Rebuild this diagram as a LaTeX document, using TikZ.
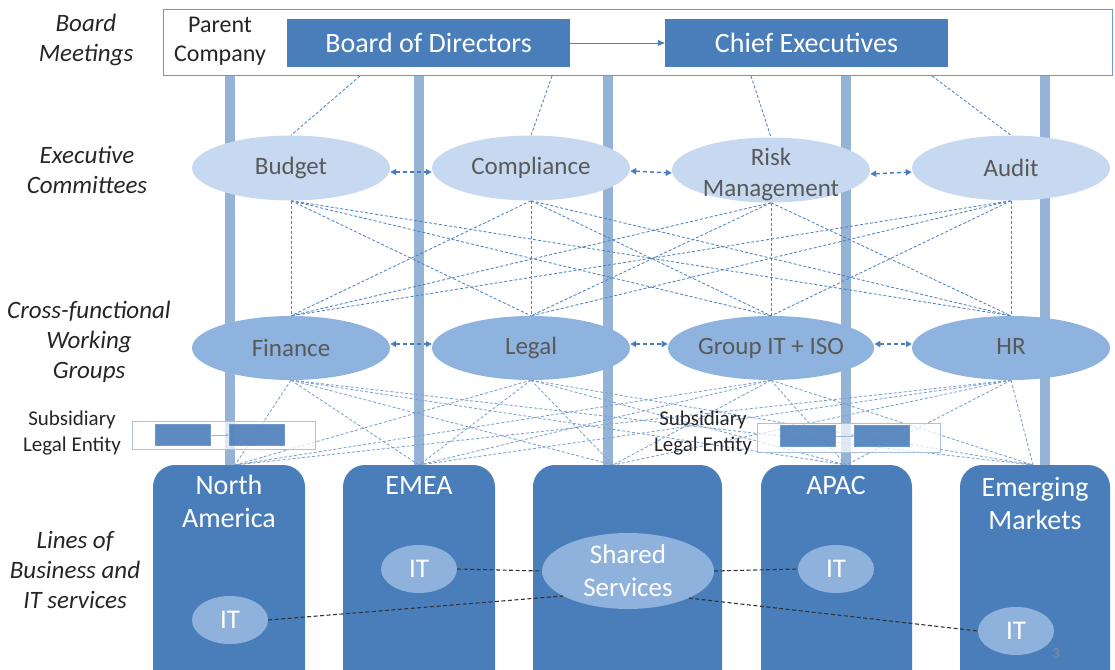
\documentclass[tikz,border=0pt]{standalone}
\usepackage{fontspec}
\setmainfont{Carlito}
\usetikzlibrary{shapes.geometric,arrows.meta,calc,backgrounds}
\definecolor{dblue}{RGB}{74,126,187}
\definecolor{barblue}{RGB}{149,179,215}
\definecolor{execfill}{RGB}{198,217,241}
\definecolor{wgfill}{RGB}{142,179,222}
\definecolor{itfill}{RGB}{143,178,220}
\definecolor{txtgray}{RGB}{89,89,89}
\definecolor{lineblue}{RGB}{79,129,189}
\definecolor{boxborder}{RGB}{110,150,205}
\tikzset{
  lbl/.style={font=\fontsize{25}{30}\selectfont\itshape, text=black!85, align=center, inner sep=0},
  sublbl/.style={font=\fontsize{21}{26}\selectfont, text=black!85, align=center, inner sep=0},
  topbox/.style={fill=dblue, text=white, font=\fontsize{28}{30}\selectfont, minimum width=283, minimum height=48, inner sep=0},
  execell/.style={ellipse, fill=execfill, minimum width=198, minimum height=65, inner sep=0, text=txtgray, font=\fontsize{25}{31}\selectfont, align=center},
  exectext/.style={inner sep=0, text=txtgray, font=\fontsize{25}{31}\selectfont, align=center},
  wgell/.style={ellipse, fill=wgfill, minimum width=198, minimum height=64, inner sep=0, text=txtgray, font=\fontsize{25}{30}\selectfont, align=center},
  itell/.style={ellipse, fill=itfill, minimum width=76, minimum height=48, inner sep=0, text=white, font=\fontsize{27}{30}\selectfont},
  region/.style={fill=dblue, rounded corners=22},
  reglbl/.style={text=white, font=\fontsize{28}{33}\selectfont, align=center, inner sep=0},
  bar/.style={barblue, line width=10},
  conn/.style={lineblue, line width=0.85, dash pattern=on 3pt off 2pt},
  lowconn/.style={lineblue!75, line width=0.85, dash pattern=on 3pt off 2pt},
  dar/.style={dblue, line width=1.5, dash pattern=on 4pt off 3pt, {Triangle[length=6pt,width=6pt]}-{Triangle[length=6pt,width=6pt]}},
  blk/.style={black!80, line width=1.1, dash pattern=on 4pt off 2.5pt},
  subbox/.style={draw=boxborder!60, fill=white, fill opacity=0.7, line width=0.6},
  subrect/.style={fill=dblue, draw=dblue!80, fill opacity=0.9, minimum width=55, minimum height=21, inner sep=0}
}
\begin{document}
\begin{tikzpicture}[x=1pt,y=-1pt]
\useasboundingbox (0,0) rectangle (1115,669);
\clip (0,0) rectangle (1115,669);
% outer box
\node[draw=boxborder, fill=white, line width=0.8, minimum width=949, minimum height=66, inner sep=0] (pc) at (637.5,42) {};
\node[font=\fontsize{24}{29}\selectfont, align=center, inner sep=0, text=black!85] (pct) at (220,41) {Parent\\Company};
\node[topbox] (bod) at (428.5,43) {Board of Directors};
\node[topbox] (ce) at (806.5,43) {Chief Executives};
\draw[lineblue, line width=0.8, -{Triangle[length=7pt,width=6pt]}] (bod.east) -- (ce.west);
% left labels
\node[lbl] (l1) at (86,40) {Board\\Meetings};
\node[lbl] (l2) at (87,170) {Executive\\Committees};
\node[lbl] (l3) at (89,342) {Cross-functional\\Working\\Groups};
\node[lbl] (l4) at (75,570) {Lines of\\Business and\\IT services};
\node[sublbl] (sl1) at (72,433) {Subsidiary\\Legal Entity};
% coordinates
\coordinate (t1) at (360,76);
\coordinate (t2) at (552,76);
\coordinate (t3) at (751,76);
\coordinate (t4) at (932,76);
\coordinate (e1) at (235,465);
\coordinate (e2) at (419,465);
\coordinate (e3) at (613,465);
\coordinate (e4) at (846,465);
\coordinate (e5) at (1033,465);
% ellipses
\node[execell] (b1) at (291,168) {Budget};
\node[execell] (b2) at (531,168) {Compliance};
\node[execell] (b3) at (771,170) {};
\node[exectext] (b3t) at (771,174) {Risk\\Management};
\node[execell] (b4) at (1011,168) {Audit};
\node[wgell] (w1) at (291,348) {Finance};
\node[wgell] (w2) at (531,348) {Legal};
\node[wgell] (w3) at (771,348) {Group IT + ISO};
\node[wgell] (w4) at (1011,348) {\raisebox{4pt}{HR}};
% bars and connectors behind
\begin{pgfonlayer}{background}
\foreach \x in {230,419,608,846,1045} \draw[bar] (\x,70) -- (\x,470);
\foreach \i in {1,...,4} \draw[conn] (t\i) -- (b\i.north);
\foreach \i in {1,...,4} \foreach \j in {1,...,4} \draw[conn] (b\i.south) -- (w\j.north);
\foreach \i in {1,...,4} \foreach \j in {1,...,5} \draw[lowconn] (w\i.south) -- (e\j);
\end{pgfonlayer}
\draw[dar] ([yshift=-4pt]b1.east) -- ([yshift=-4pt]b2.west);
\draw[dar] ([yshift=-3pt]b2.east) -- ([yshift=-3pt]b3.west);
\draw[dar] ([yshift=-4pt]b3.east) -- ([yshift=-4pt]b4.west);
\draw[dar] ([yshift=4pt]w1.east) -- ([yshift=4pt]w2.west);
\draw[dar] ([yshift=4pt]w2.east) -- ([yshift=4pt]w3.west);
\draw[dar] ([yshift=4pt]w3.east) -- ([yshift=4pt]w4.west);
% subsidiary boxes
\draw[subbox] (132,421) rectangle (315,449);
\node[subrect] (sa1) at (182.5,435) {};
\node[subrect] (sa2) at (256.5,435) {};
\draw[boxborder!70, line width=0.6, -{Triangle[length=3pt,width=3pt]}] (sa1.east) -- (sa2.west);
\draw[subbox] (757,423) rectangle (940,452);
\node[subrect] (sb1) at (808,436) {};
\node[subrect] (sb2) at (882,436) {};
\draw[boxborder!70, line width=0.6, -{Triangle[length=3pt,width=3pt]}] (sb1.east) -- (sb2.west);
\node[sublbl] (sl2) at (703,433) {Subsidiary\\Legal Entity};
% regions
\fill[region] (153,465) rectangle (305,700);
\fill[region] (343,465) rectangle (495,700);
\fill[region] (533,465) rectangle (722,700);
\fill[region] (761,465) rectangle (912,700);
\fill[region] (960,465) rectangle (1110,700);
\node[reglbl] (na) at (229,501) {North\\America};
\node[reglbl] (em) at (419,486) {EMEA};
\node[reglbl] (ap) at (836,486) {APAC};
\node[reglbl] (emk) at (1035,503) {Emerging\\Markets};
% IT ellipses
\node[itell] (it2) at (419,569) {IT};
\node[itell] (it4) at (836,569) {IT};
\node[itell] (it1) at (230,620) {IT};
\node[itell] (it5) at (1016,631) {IT};
\node[itell, minimum width=172, minimum height=76, font=\fontsize{27}{33}\selectfont, align=center] (ss) at (628,571) {Shared\\Services};
\draw[blk] (it2.east) -- (ss.west);
\draw[blk] (ss.east) -- (it4.west);
\draw[blk] (it1.east) -- (ss.201);
\draw[blk] (ss.-24) -- (it5.west);
\node[text=black!45, font=\fontsize{15}{16}\selectfont, inner sep=0] (pg) at (1056,654) {3};
\end{tikzpicture}
\end{document}
